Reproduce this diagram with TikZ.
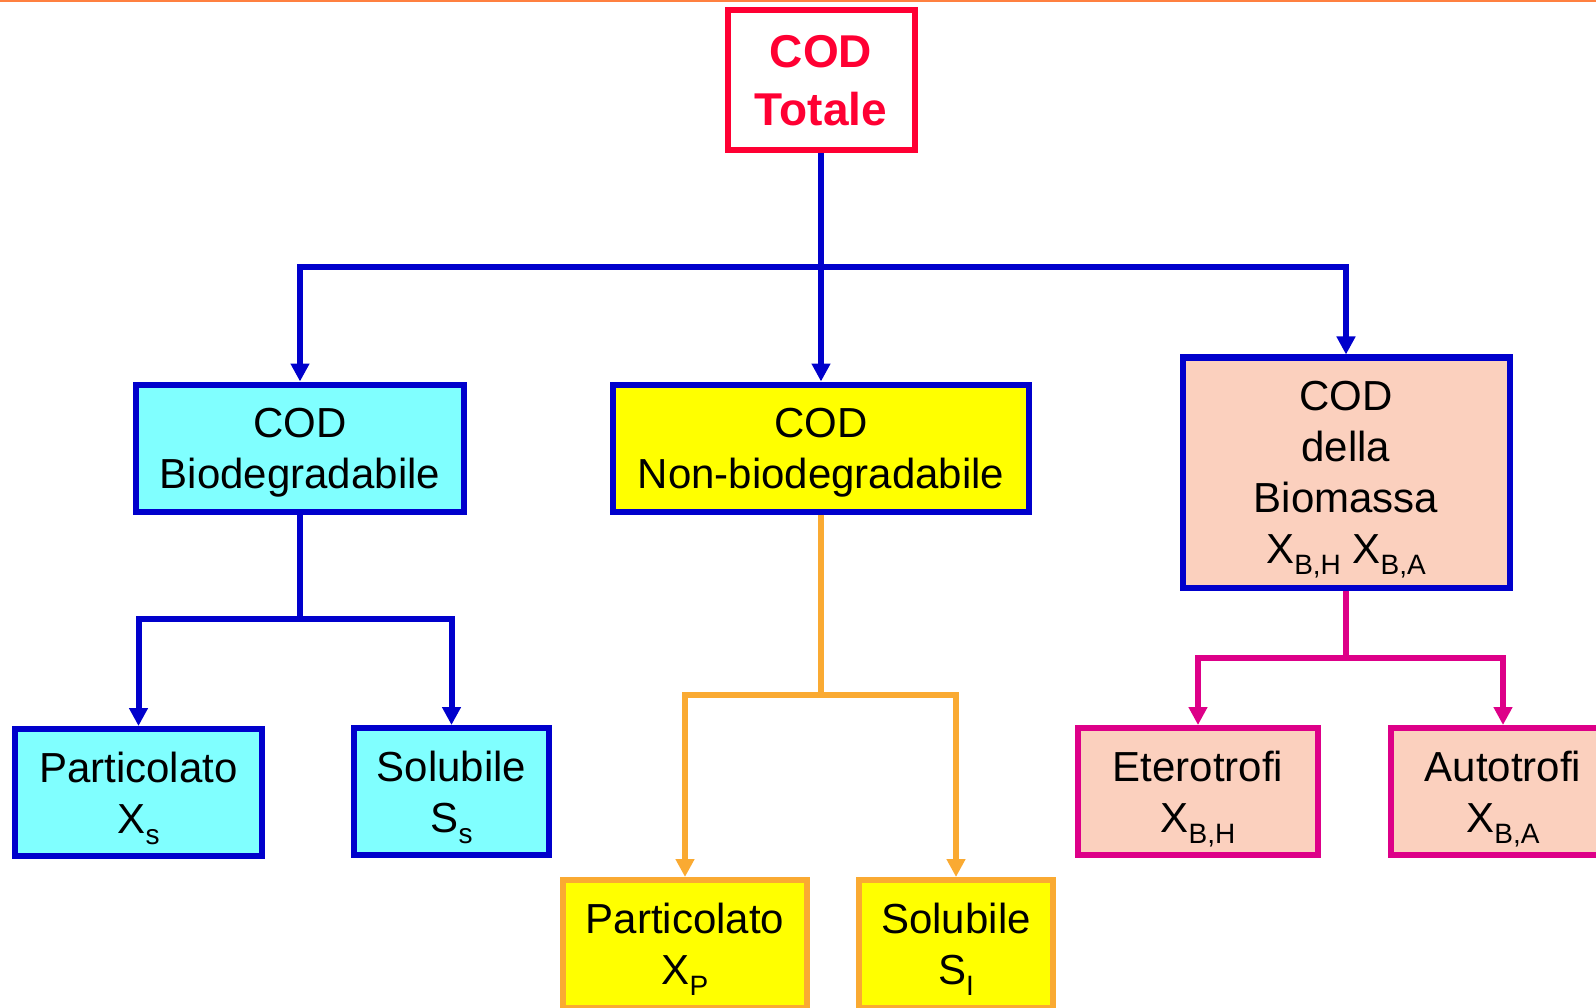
\documentclass[tikz,border=0pt]{standalone}
\usepackage{fontspec}
\setmainfont{Liberation Sans}
\usetikzlibrary{arrows.meta}

\definecolor{codblue}{RGB}{0,0,204}
\definecolor{codred}{RGB}{255,0,51}
\definecolor{codcyan}{RGB}{128,255,255}
\definecolor{codyellow}{RGB}{255,255,0}
\definecolor{codorange}{RGB}{250,170,50}
\definecolor{codpeach}{RGB}{251,208,190}
\definecolor{codmagenta}{RGB}{221,0,136}
\definecolor{codrule}{RGB}{255,128,64}

\newcommand{\subtxt}[1]{\raisebox{-11pt}[0pt][0pt]{\fontsize{28}{28}\selectfont #1}}

\tikzset{
  codbox/.style={draw, line width=6pt, inner sep=0pt, align=center,
    font=\fontsize{42}{51}\selectfont},
  link/.style={line width=6pt},
  linkarrow/.style={link, -{Triangle[width=18pt,length=18pt]}}
}

\begin{document}
\begin{tikzpicture}[x=1pt,y=-1pt]
            \useasboundingbox (0,0) rectangle (1596,1008);
            \clip (0,0) rectangle (1596,1008);
            \draw[codrule, line width=2.5pt] (0,1) -- (1596,1);

            % top
            \node[codbox, draw=codred, text=codred, font=\bfseries\fontsize{46}{58}\selectfont,
                  text depth=-6pt, minimum width=187pt, minimum height=140pt] (tot) at (821,80) {COD\\Totale};

            % second level
            \node[codbox, draw=codblue, fill=codcyan, text depth=-3pt, minimum width=328pt, minimum height=127pt]
                  (bio) at (300,448) {COD\\Biodegradabile};
            \node[codbox, draw=codblue, fill=codyellow, text depth=-3pt, minimum width=416pt, minimum height=127pt]
                  (nonbio) at (821,448) {COD\\Non-biodegradabile};
            \node[codbox, draw=codblue, fill=codpeach, text depth=-6pt, minimum width=327pt, minimum height=230pt]
                  (biom) at (1346,472.5) {COD\\della\\Biomassa\\X\subtxt{B,H} X\subtxt{B,A}};

            % third level
            \node[codbox, draw=codblue, fill=codcyan, text depth=-3pt, minimum width=247pt, minimum height=127pt]
                  (partX) at (138.5,792.5) {Particolato\\X\subtxt{s}};
            \node[codbox, draw=codblue, fill=codcyan, minimum width=195pt, minimum height=127pt]
                  (solS) at (451.5,791.5) {Solubile\\S\subtxt{s}};
            \node[codbox, draw=codorange, fill=codyellow, minimum width=244pt, minimum height=128pt]
                  (partP) at (685,944) {Particolato\\X\subtxt{P}};
            \node[codbox, draw=codorange, fill=codyellow, minimum width=194pt, minimum height=128pt]
                  (solI) at (956,944) {Solubile\\S\subtxt{I}};
            \node[codbox, draw=codmagenta, fill=codpeach, minimum width=240pt, minimum height=127pt]
                  (eter) at (1198,791.5) {Eterotrofi\\X\subtxt{B,H}};
            \node[codbox, draw=codmagenta, fill=codpeach, minimum width=224pt, minimum height=127pt]
                  (auto) at (1503,791.5) {Autotrofi\\X\subtxt{B,A}};

            % splits
            \coordinate (topsplit) at (821,267);
            \coordinate (biosplit) at (300,619);
            \coordinate (nonsplit) at (821,695);
            \coordinate (biomsplit) at (1346,658);

            \draw[linkarrow, codblue] (tot.south) -- (nonbio.north);
            \draw[linkarrow, codblue] (topsplit) -| (bio.north);
            \draw[linkarrow, codblue] (topsplit) -| (biom.north);

            \draw[link, codblue] (bio.south) -- (biosplit);
            \draw[linkarrow, codblue] (biosplit) -| (partX.north);
            \draw[linkarrow, codblue] (biosplit) -| (solS.north);

            \draw[link, codorange] (nonbio.south) -- (nonsplit);
            \draw[linkarrow, codorange] (nonsplit) -| (partP.north);
            \draw[linkarrow, codorange] (nonsplit) -| (solI.north);

            \draw[link, codmagenta] (biom.south) -- (biomsplit);
            \draw[linkarrow, codmagenta] (biomsplit) -| (eter.north);
            \draw[linkarrow, codmagenta] (biomsplit) -| (auto.north);
\end{tikzpicture}
\end{document}
